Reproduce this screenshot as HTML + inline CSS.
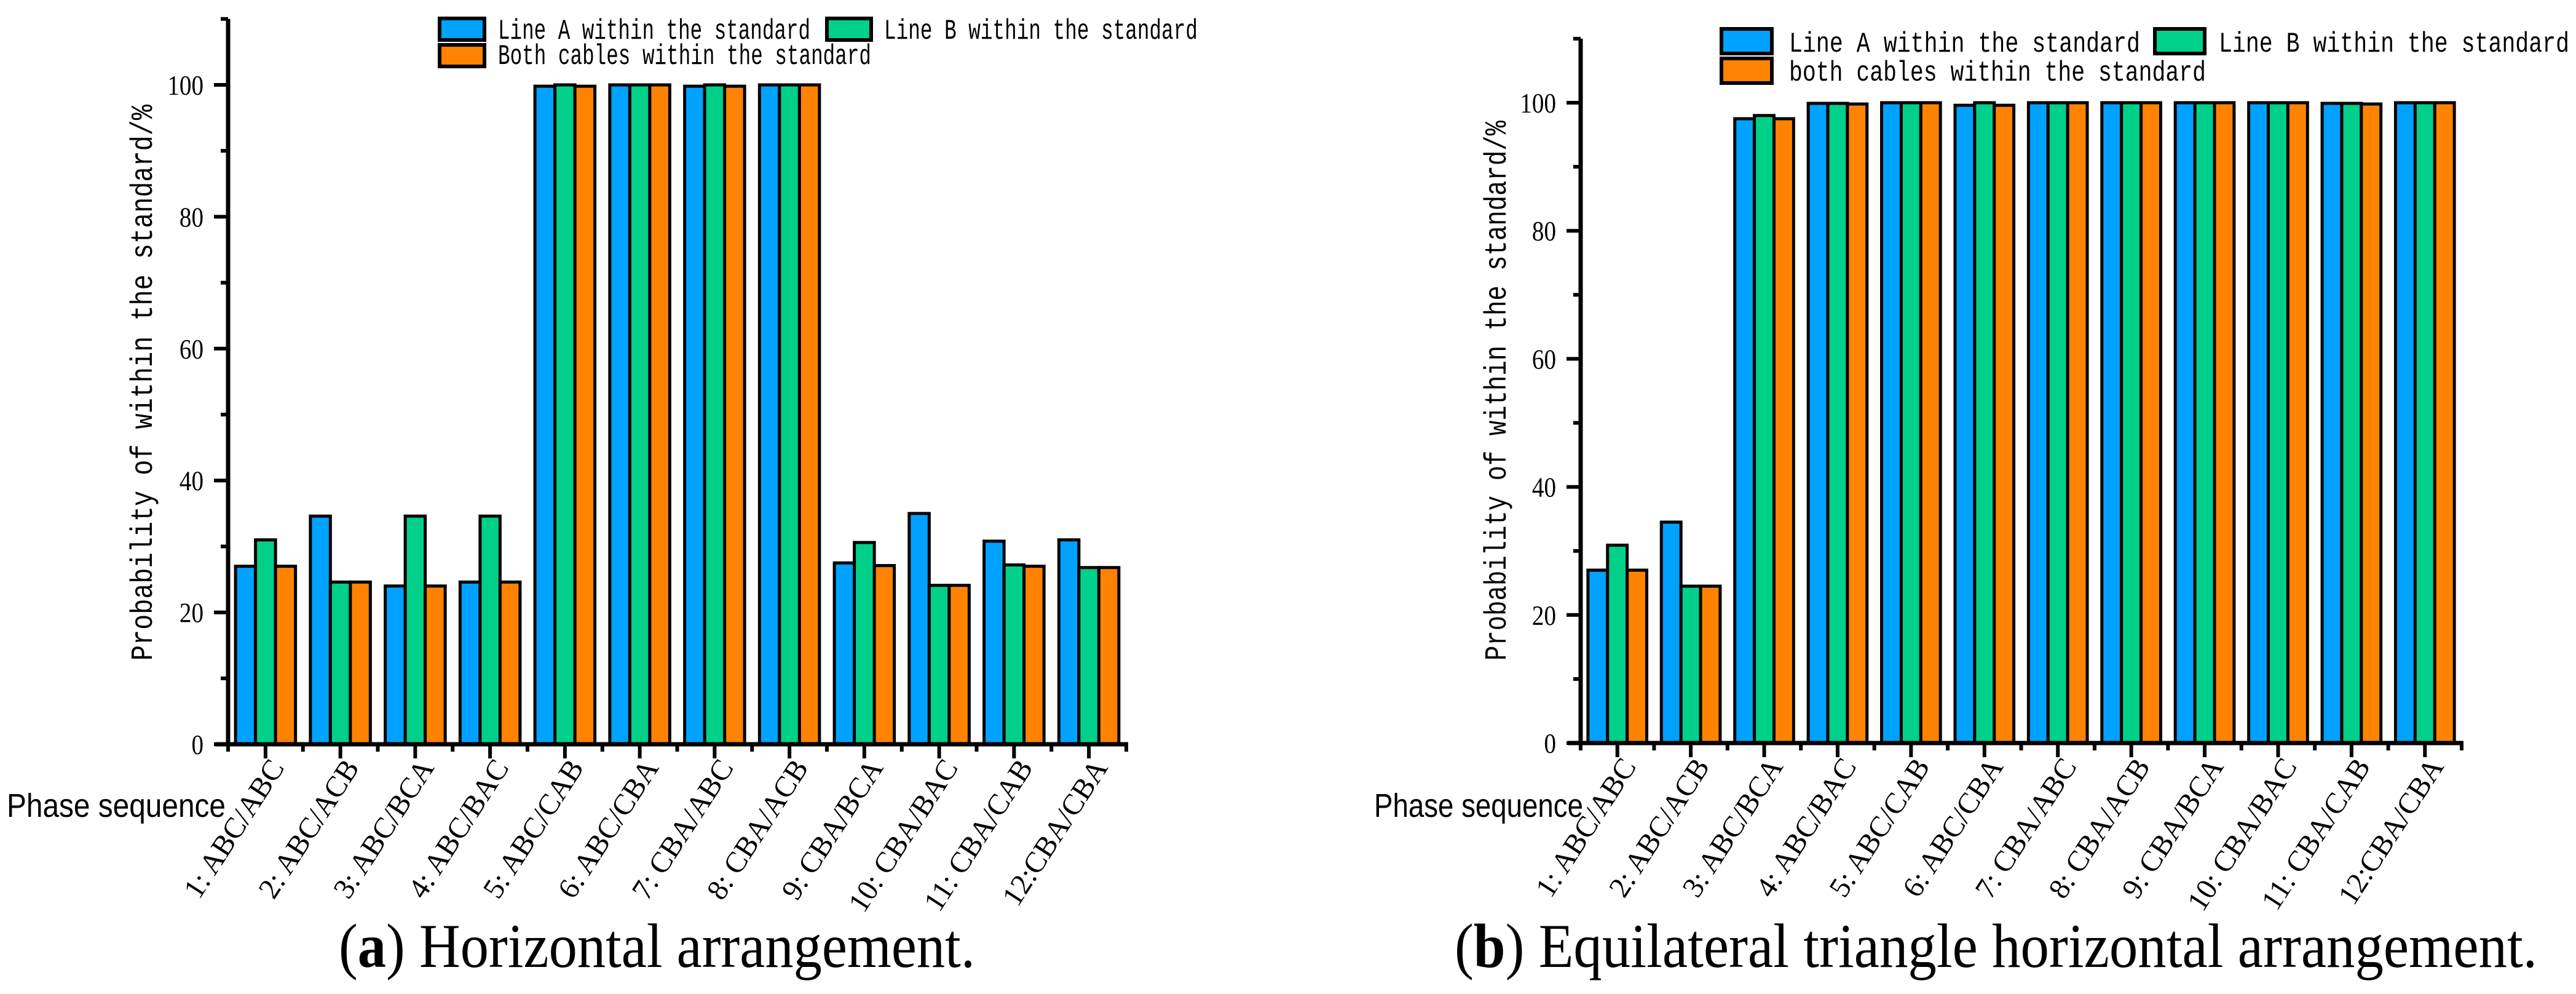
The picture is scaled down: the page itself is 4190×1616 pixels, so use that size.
<!DOCTYPE html>
<html><head><meta charset="utf-8"><style>
html,body{margin:0;padding:0;background:#fff;}
svg{display:block;}
</style></head><body>
<svg id="fig" width="4190" height="1616" viewBox="0 0 4190 1616" xmlns="http://www.w3.org/2000/svg">
<rect width="4190" height="1616" fill="#fff"/>
</svg>
<script>
const categories = ["1: ABC/ABC","2: ABC/ACB","3: ABC/BCA","4: ABC/BAC","5: ABC/CAB","6: ABC/CBA","7: CBA/ABC","8: CBA/ACB","9: CBA/BCA","10: CBA/BAC","11: CBA/CAB","12:CBA/CBA"];
const yTicks = [0,20,40,60,80,100];
const aLineA = [27,34.6,24,24.6,99.8,100,99.8,100,27.5,35,30.8,31];
const aLineB = [31,24.6,34.6,34.6,100,100,100,100,30.6,24.1,27.2,26.8];
const aBoth  = [27,24.6,24,24.6,99.8,100,99.8,100,27.1,24.1,27,26.8];
const bLineA = [27,34.5,97.5,99.9,100,99.6,100,100,100,100,99.9,100];
const bLineB = [30.9,24.5,98,99.9,100,100,100,100,100,100,99.9,100];
const bBoth  = [27,24.5,97.5,99.8,100,99.6,100,100,100,100,99.8,100];
const seriesColors = ["#00a2ff","#00d08a","#ff8300"];

const NS="http://www.w3.org/2000/svg";
const svg=document.getElementById('fig');
function mk(tag,attrs,parent,text){const e=document.createElementNS(NS,tag);for(const k in attrs)e.setAttribute(k,attrs[k]);if(text!==undefined)e.textContent=text;(parent||svg).appendChild(e);return e;}

function drawChart(cfg){
  const g=mk('g',{});
  
  
  const x0=cfg.x0,x1=cfg.x1,y0=cfg.y0,y100=cfg.y100;
  const ys=v=>y0-(y0-y100)*v/100;
  const gw=(x1-x0)/categories.length;
  const bw=gw*0.267;
  const series=[cfg.A,cfg.B,cfg.C];
  const names=['line-a','line-b','both'];
  for(let i=0;i<categories.length;i++){
    const cx=x0+gw*(i+0.5);
    for(let s=0;s<3;s++){
      const v=series[s][i];
      const bx=cx-1.5*bw+s*bw;
      const r=mk('rect',{x:bx,y:ys(v),width:bw,height:y0-ys(v),fill:seriesColors[s],stroke:'#000','stroke-width':5},g);
      
      
    }
  }
  const ytop=ys(110);
  const ya=mk('line',{x1:x0,y1:ytop,x2:x0,y2:y0+3,stroke:'#000','stroke-width':7},g);
  
  
  for(let v=0;v<=110;v+=10){
    const major=(v%20===0)&&v<=100;
    mk('line',{x1:x0-(major?23:12),y1:ys(v),x2:x0,y2:ys(v),stroke:'#000','stroke-width':6},g);
  }
  yTicks.forEach(v=>{
    const t=mk('text',{x:x0-40,y:ys(v)+16,'text-anchor':'end','font-family':'Liberation Serif, serif','font-size':46,transform:`translate(${x0-40} 0) scale(0.85 1) translate(${-(x0-40)} 0)`},g,String(v));
    
    
  });
  const xa=mk('line',{x1:x0-21,y1:y0,x2:x1+3,y2:y0,stroke:'#000','stroke-width':7},g);
  
  
  for(let i=0;i<=categories.length;i++){
    const bx=x0+gw*i;
    mk('line',{x1:bx,y1:y0,x2:bx,y2:y0+12,stroke:'#000','stroke-width':6},g);
    if(i<categories.length){
      const cx=x0+gw*(i+0.5);
      mk('line',{x1:cx,y1:y0,x2:cx,y2:y0+23,stroke:'#000','stroke-width':6},g);
      const ax=cx+32, ay=y0+38;
      const t=mk('text',{x:ax,y:ay,'text-anchor':'end','font-family':'Liberation Serif, serif','font-size':48,transform:`rotate(-57 ${ax} ${ay})`},g,categories[i]);
      
      
    }
  }
  const yl=mk('text',{x:0,y:0,'text-anchor':'middle','font-family':'Liberation Mono, monospace','font-size':50,textLength:cfg.ylLen,lengthAdjust:'spacingAndGlyphs',transform:`translate(${cfg.ylx} ${cfg.ylc}) rotate(-90)`},g,'Probability of within the standard/%');
  
  
  const xl=mk('text',{x:cfg.psx,y:1328,'font-family':'Liberation Sans, sans-serif','font-size':54,textLength:cfg.psLen,lengthAdjust:'spacingAndGlyphs'},g,'Phase sequence');
  
  
  const lg=mk('g',{},g);
  
  
  cfg.legend.forEach((L,k)=>{
    const e=mk('g',{},lg);
    
    
    mk('rect',{x:L.bx,y:L.by,width:L.bw,height:L.bh,fill:seriesColors[k],stroke:'#000','stroke-width':6},e);
    mk('text',{x:L.tx,y:L.ty,'font-family':'Liberation Mono, monospace','font-size':46,textLength:L.tl,lengthAdjust:'spacingAndGlyphs'},e,L.text);
  });
  const cap=mk('text',{x:cfg.capx,y:1572,'font-family':'Liberation Serif, serif','font-size':102,textLength:cfg.capLen,lengthAdjust:'spacingAndGlyphs'},g);
  
  
  mk('tspan',{},cap,'(');
  mk('tspan',{'font-weight':'bold'},cap,cfg.letter);
  mk('tspan',{},cap,') '+cfg.caption);
}

drawChart({name:'chart-a-horizontal',x0:371,x1:1832,y0:1210,y100:138,A:aLineA,B:aLineB,C:aBoth,
  ylx:247,ylc:622,ylLen:904,psx:11,psLen:356,capx:551,capLen:1035,letter:'a',caption:'Horizontal arrangement.',
  legend:[
    {bx:715,by:30,bw:73,bh:35,tx:810,ty:63,tl:508,text:'Line A within the standard'},
    {bx:1345,by:30,bw:72,bh:35,tx:1438,ty:63,tl:510,text:'Line B within the standard'},
    {bx:715,by:73,bw:73,bh:35,tx:810,ty:104,tl:607,text:'Both cables within the standard'}
  ]});
drawChart({name:'chart-b-triangle',x0:2571,x1:4004,y0:1208,y100:167,A:bLineA,B:bLineB,C:bBoth,
  ylx:2449,ylc:635,ylLen:878,psx:2235,psLen:340,capx:2366,capLen:1761,letter:'b',caption:'Equilateral triangle horizontal arrangement.',
  legend:[
    {bx:2800,by:47,bw:82,bh:40,tx:2910,ty:84,tl:571,text:'Line A within the standard'},
    {bx:3505,by:47,bw:81,bh:40,tx:3609,ty:84,tl:570,text:'Line B within the standard'},
    {bx:2800,by:95,bw:82,bh:40,tx:2910,ty:131,tl:678,text:'both cables within the standard'}
  ]});
</script>
</body></html>
